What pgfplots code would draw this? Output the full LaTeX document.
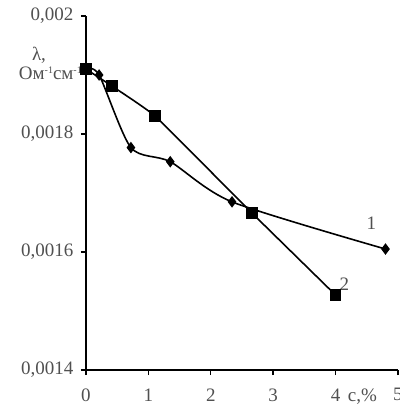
\documentclass[border=0pt]{standalone}
\usepackage{fontspec}
\setmainfont{Liberation Serif}
\usepackage{pgfplots}
\pgfplotsset{compat=1.18}
\definecolor{txt}{HTML}{505050}
\begin{document}
\begin{tikzpicture}
\useasboundingbox (-86pt,-37pt) rectangle (313pt,370pt);
\begin{axis}[
  scale only axis, width=312pt, height=354pt,
  anchor=south west, at={(0pt,0pt)},
  xmin=0, xmax=5, ymin=0.0014, ymax=0.002,
  axis lines=left, axis line style={-, line width=1.6pt},
  tick align=outside, major tick length=5pt,
  tick style={line width=1.4pt, black},
  xtick={0,1,2,3,4,5},
  ytick={0.0014,0.0016,0.0018,0.002},
  yticklabels={{0,0014},{0,0016},{0,0018},{0,002}},
  scaled y ticks=false,
  /pgf/number format/assume math mode=true,
  ticklabel style={font=\fontsize{19}{21}\selectfont, text=txt},
  xticklabel style={yshift=-10pt},
  yticklabel style={xshift=-4pt},
  clip=false,
]
\addplot[black, line width=1.6pt, smooth, tension=0.45, mark=diamond*, mark size=4.5pt]
  coordinates {(0,0.00191) (0.21,0.00190) (0.72,0.001777) (1.35,0.001753) (2.34,0.001685) (4.8,0.001605)};
\addplot[black, line width=1.6pt, smooth, tension=0.2, mark=square*, mark size=5pt]
  coordinates {(0,0.00191) (0.42,0.001881) (1.11,0.00183) (2.66,0.001666) (4.0,0.001527)};
\node[font=\fontsize{19}{21}\selectfont, text=txt] at (axis cs:4.575,0.001648) {1};
\node[font=\fontsize{19}{21}\selectfont, text=txt] at (axis cs:4.14,0.001546) {2};
\node[font=\fontsize{19}{21}\selectfont, text=txt] at (axis cs:4.43,0.0014) [yshift=-27pt] {c,\%};
\node[font=\fontsize{19}{21}\selectfont, text=txt] at (rel axis cs:0,0) [xshift=-47pt, yshift=315pt] {λ,};
\node[font=\fontsize{19}{21}\selectfont, text=txt, anchor=east, inner sep=0pt] at (rel axis cs:0,0) [xshift=-4pt, yshift=297pt] {Ом{\fontsize{10}{10}\selectfont\raisebox{6pt}{-1}}см{\fontsize{10}{10}\selectfont\raisebox{6pt}{-1}}};
\end{axis}
\end{tikzpicture}
\end{document}
